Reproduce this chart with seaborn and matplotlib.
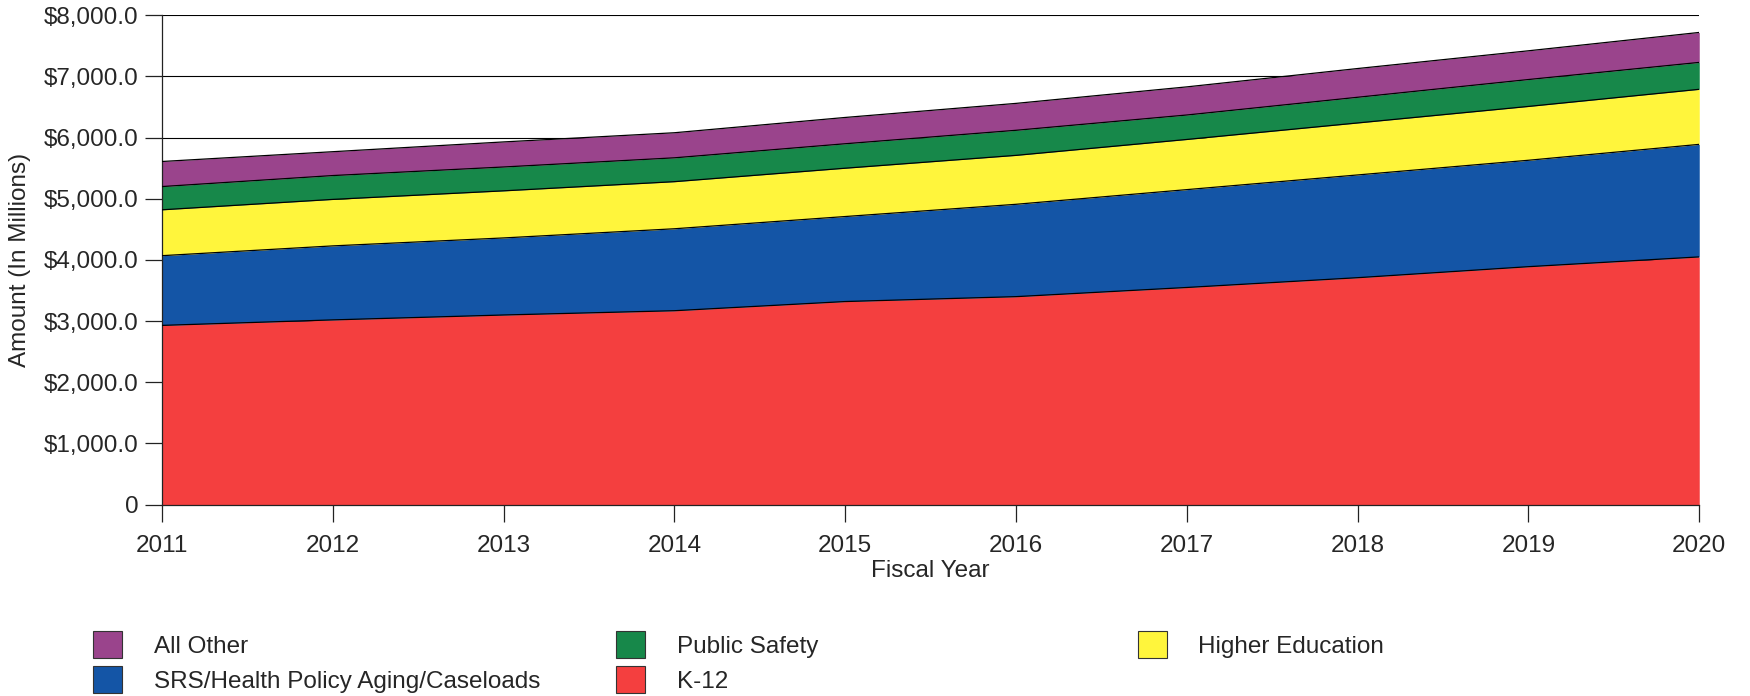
import seaborn as sns
import pandas as pd
import matplotlib.pyplot as plt
import numpy as np
from matplotlib.patches import Patch
import matplotlib.ticker as ticker

years = [2011, 2012, 2013, 2014, 2015, 2016, 2017, 2018, 2019, 2020]

# values in $ millions
k12 = [2930, 3020, 3100, 3170, 3320, 3400, 3550, 3710, 3890, 4050]
srs = [1140, 1210, 1260, 1340, 1390, 1510, 1600, 1680, 1740, 1840]
higher_ed = [750, 760, 770, 770, 790, 800, 820, 850, 880, 900]
public_safety = [380, 390, 390, 390, 400, 410, 400, 420, 440, 440]
all_other = [410, 390, 410, 410, 430, 440, 460, 470, 470, 490]

series = ['K-12', 'SRS/Health Policy Aging/Caseloads', 'Higher Education',
          'Public Safety', 'All Other']
colors = {'K-12': '#f43f3f',
          'SRS/Health Policy Aging/Caseloads': '#1455a6',
          'Higher Education': '#fff53c',
          'Public Safety': '#17884a',
          'All Other': '#9a448c'}

df = pd.DataFrame({'Year': years, 'K-12': k12,
                   'SRS/Health Policy Aging/Caseloads': srs,
                   'Higher Education': higher_ed,
                   'Public Safety': public_safety,
                   'All Other': all_other})
cum = df[series].cumsum(axis=1)
cum['Year'] = df['Year']

sns.set_theme(style="white")
plt.rcParams['font.family'] = ['Liberation Sans', 'DejaVu Sans']

fig = plt.figure(figsize=(17.5, 6.96), dpi=100)
ax = fig.add_axes([0.0926, 0.275, 0.8784, 0.703])

fs = 17.5
lower = np.zeros(len(years))
for name in series:
    upper = cum[name].to_numpy()
    ax.fill_between(df['Year'], lower, upper, color=colors[name], linewidth=0, zorder=2)
    lower = upper
for name in series:
    sns.lineplot(data=cum, x='Year', y=name, color='black', linewidth=0.9, ax=ax, zorder=3)

ax.set_xlim(2011, 2020)
ax.set_ylim(0, 8000)
ax.set_xticks(years)
ax.set_yticks(np.arange(0, 8001, 1000))
ax.yaxis.set_major_formatter(ticker.FuncFormatter(
    lambda v, pos: '0' if v == 0 else f'${v:,.1f}'))
ax.grid(axis='y', color='black', linewidth=0.8)
ax.set_axisbelow(True)
for s in ['top', 'right']:
    ax.spines[s].set_visible(False)
for s in ['left', 'bottom']:
    ax.spines[s].set_color('#222222')
    ax.spines[s].set_linewidth(0.9)
ax.tick_params(axis='both', which='major', direction='out', length=12, width=0.9,
               color='#222222', labelsize=fs, left=True, bottom=True, pad=5)
ax.tick_params(axis='x', pad=10)
ax.set_xlabel('Fiscal Year', fontsize=fs, labelpad=2)
ax.set_ylabel('Amount (In Millions)', fontsize=fs, labelpad=9)

# legend laid out in three evenly spaced columns
cols = [['All Other', 'SRS/Health Policy Aging/Caseloads'],
        ['Public Safety', 'K-12'],
        ['Higher Education']]
xs = [0.053, 0.352, 0.650]
for labels, x in zip(cols, xs):
    handles = [Patch(facecolor=colors[l], edgecolor='#333333', linewidth=0.8) for l in labels]
    fig.legend(handles, labels, loc='upper left', bbox_to_anchor=(x, 0.093),
               frameon=False, fontsize=fs, handlelength=1.2, handleheight=1.3,
               handletextpad=1.3, labelspacing=0.35, borderaxespad=0, borderpad=0)

plt.savefig('out.png', dpi=100)
